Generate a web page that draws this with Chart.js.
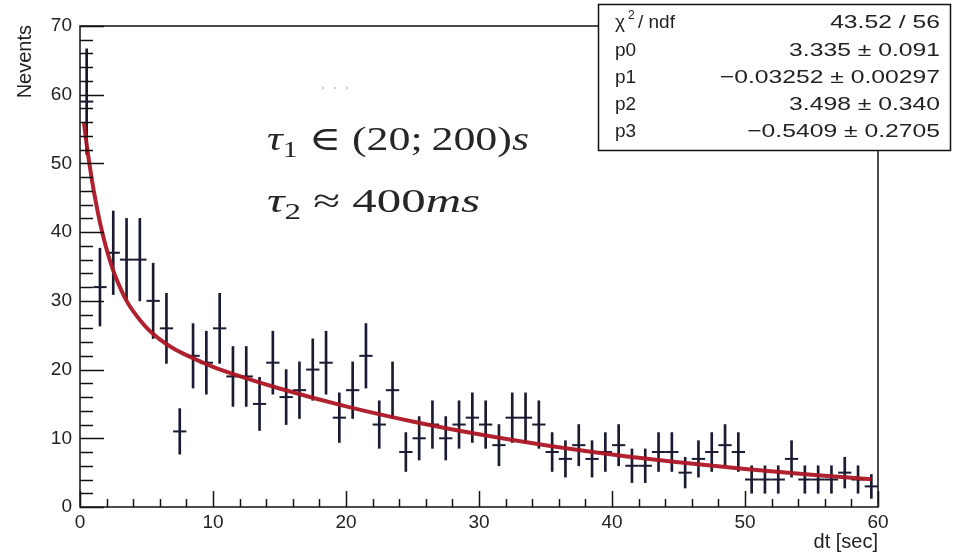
<!DOCTYPE html>
<html>
<head>
<meta charset="utf-8">
<script src="https://cdn.jsdelivr.net/npm/chart.js@4.4.1/dist/chart.umd.min.js"></script>
<style>
  html, body { margin: 0; padding: 0; background: #ffffff; }
  #wrap { width: 953px; height: 554px; position: relative; }
</style>
</head>
<body>
<div id="wrap"><canvas id="c" width="953" height="554"></canvas></div>
<script>
// ---------- data ----------
const binCenters = [0.5,1.5,2.5,3.5,4.5,5.5,6.5,7.5,8.5,9.5,
  10.5,11.5,12.5,13.5,14.5,15.5,16.5,17.5,18.5,19.5,
  20.5,21.5,22.5,23.5,24.5,25.5,26.5,27.5,28.5,29.5,
  30.5,31.5,32.5,33.5,34.5,35.5,36.5,37.5,38.5,39.5,
  40.5,41.5,42.5,43.5,44.5,45.5,46.5,47.5,48.5,49.5,
  50.5,51.5,52.5,53.5,54.5,55.5,56.5,57.5,58.5,59.5];
const counts = [59,32,37,36,36,30,26,11,22,21,
  26,19,19,15,21,16,17,20,21,13,
  17,22,12,17,8,10,12,10,12,13,
  12,9,13,13,12,8,7,9,7,8,
  9,6,6,8,8,5,7,8,9,8,
  4,4,4,7,4,4,4,5,4,3];
const countErrors = [7.68,5.66,6.08,6.00,6.00,5.48,5.10,3.32,4.69,4.58,
  5.10,4.36,4.36,3.87,4.58,4.00,4.12,4.47,4.58,3.61,
  4.12,4.69,3.46,4.12,2.83,3.16,3.46,3.16,3.46,3.61,
  3.46,3.00,3.61,3.61,3.46,2.83,2.65,3.00,2.65,2.83,
  3.00,2.45,2.45,2.83,2.83,2.24,2.65,2.83,3.00,2.83,
  2.00,2.00,2.00,2.65,2.00,2.00,2.00,2.24,2.00,1.73];
const fitX = [0.3,0.5,0.75,1,1.25,1.5,2,2.5,3,3.5,4,5,6,7,8,10,12,15,20,25,30,35,40,45,50,55,59.5];
const fitY = [55.9,52.8,49.4,46.4,43.8,41.4,37.5,34.4,32.0,30.0,28.5,26.1,24.4,23.1,22.1,20.4,19.05,17.25,14.65,12.45,10.58,8.99,7.64,6.50,5.52,4.69,4.05];
const statLabels = ['p0','p1','p2','p3'];
const statValues = ['43.52 / 56','3.335 \u00b1 0.091','\u22120.03252 \u00b1 0.00297','3.498 \u00b1 0.340','\u22120.5409 \u00b1 0.2705'];
const xTitle = 'dt [sec]';
const yTitle = 'Nevents';

// ---------- styling ----------
const INK = '#1a1a33';
const SANS = '"Liberation Sans", Arial, sans-serif';
const SERIF = '"Liberation Serif", "DejaVu Serif", serif';

function drawMath(ctx, pieces, x, baseline, targetWidth) {
  let w = 0;
  pieces.forEach(p => { ctx.font = p.font; p.w = ctx.measureText(p.t).width; w += p.w; });
  const s = targetWidth / w;
  ctx.save();
  ctx.translate(x, baseline);
  ctx.scale(s, 1);
  let cx = 0;
  pieces.forEach(p => { ctx.font = p.font; ctx.fillText(p.t, cx, p.dy || 0); cx += p.w; });
  ctx.restore();
}

const rootStyle = {
  id: 'rootStyle',
  afterDraw(chart) {
    const ctx = chart.ctx;
    const { left, right, top, bottom } = chart.chartArea;
    const xs = chart.scales.x, ys = chart.scales.y;
    ctx.save();
    ctx.strokeStyle = '#111';
    ctx.lineWidth = 1.5;
    // frame
    ctx.strokeRect(left, top, right - left, bottom - top);
    // inward ticks
    ctx.beginPath();
    for (let v = xs.min; v <= xs.max + 1e-9; v += 2) {
      const px = Math.round(xs.getPixelForValue(v)) + 0.5;
      const len = (Math.abs(v % 10) < 1e-9) ? 16 : 8;
      ctx.moveTo(px, bottom); ctx.lineTo(px, bottom - len);
    }
    for (let v = ys.min; v <= ys.max + 1e-9; v += 2) {
      const py = Math.round(ys.getPixelForValue(v)) + 0.5;
      const len = (Math.abs(v % 10) < 1e-9) ? 24 : 13;
      ctx.moveTo(left, py); ctx.lineTo(left + len, py);
    }
    ctx.stroke();

    // axis titles
    ctx.fillStyle = '#222';
    ctx.font = '20px ' + SANS;
    ctx.textAlign = 'right';
    ctx.textBaseline = 'alphabetic';
    ctx.fillText(xTitle, right, 548);
    ctx.save();
    ctx.translate(31, top - 1);
    ctx.rotate(-Math.PI / 2);
    ctx.textAlign = 'right';
    ctx.fillText(yTitle, 0, 0);
    ctx.restore();

    // latex annotation
    ctx.textAlign = 'left';
    ctx.fillStyle = '#262626';
    const big = '34px ' + SERIF, bigI = 'italic 34px ' + SERIF, sub = '23px ' + SERIF;
    drawMath(ctx, [
      { t: '\u03c4', font: bigI }, { t: '1', font: sub, dy: 7 },
      { t: ' \u2208 ', font: big }, { t: '(20;\u2009200)', font: big }, { t: 's', font: bigI }
    ], 267, 150, 262);
    drawMath(ctx, [
      { t: '\u03c4', font: bigI }, { t: '2', font: sub, dy: 7 },
      { t: ' \u2248 ', font: big }, { t: '400', font: big }, { t: 'ms', font: bigI }
    ], 267, 212, 213);
    // faint dots
    ctx.fillStyle = '#c4c4c4';
    [323, 335, 347].forEach(dx => { ctx.beginPath(); ctx.arc(dx, 88, 1.1, 0, Math.PI * 2); ctx.fill(); });

    // stats box
    const bx = 598.5, by = 4.5, bw = 352, bh = 146;
    ctx.fillStyle = '#ffffff';
    ctx.fillRect(bx, by, bw, bh);
    ctx.strokeStyle = '#111';
    ctx.lineWidth = 1.5;
    ctx.strokeRect(bx, by, bw, bh);
    const rows = [28, 56, 83, 110, 137];
    ctx.fillStyle = '#222';
    ctx.textAlign = 'left';
    ctx.font = '19px ' + SANS;
    ctx.fillText('\u03c7', 615, rows[0]);
    ctx.font = '12px ' + SANS;
    ctx.fillText('2', 628, rows[0] - 9);
    ctx.font = '19px ' + SANS;
    ctx.fillText('/ ndf', 638, rows[0]);
    statLabels.forEach((s, i) => ctx.fillText(s, 615, rows[i + 1]));
    ctx.textAlign = 'right';
    statValues.forEach((s, i) => {
      ctx.save();
      ctx.translate(940, rows[i]);
      ctx.scale(1.3, 1);
      ctx.fillText(s, 0, 0);
      ctx.restore();
    });
    ctx.restore();
  }
};

const errBars = binCenters.map((x, i) => ({ x, y: [counts[i] - countErrors[i], counts[i] + countErrors[i]] }));
const centers = binCenters.map((x, i) => ({ x, y: counts[i] }));
const fitPts = fitX.map((x, i) => ({ x, y: fitY[i] }));

new Chart(document.getElementById('c'), {
  type: 'scatter',
  data: {
    datasets: [
      {
        type: 'line', label: 'fit', data: fitPts, order: 0,
        borderColor: 'rgba(172,22,36,0.95)', borderWidth: 4,
        pointRadius: 0, cubicInterpolationMode: 'monotone', fill: false
      },
      {
        type: 'bar', label: 'err', data: errBars, order: 2,
        backgroundColor: INK, borderWidth: 0, barThickness: 2, grouped: false
      },
      {
        type: 'scatter', label: 'hist', data: centers, order: 1,
        pointStyle: 'line', pointRadius: 6.65, pointBorderWidth: 2,
        pointBorderColor: INK, pointBackgroundColor: INK, pointHoverRadius: 6.65
      }
    ]
  },
  options: {
    responsive: false,
    animation: false,
    events: [],
    layout: { padding: { left: 0, right: 75, top: 26, bottom: 0 } },
    plugins: { legend: { display: false }, tooltip: { enabled: false } },
    scales: {
      x: {
        type: 'linear', min: 0, max: 60, offset: false,
        afterFit: s => { s.height = 47; },
        grid: { display: false, drawTicks: false },
        border: { display: false },
        ticks: { stepSize: 10, padding: 4, color: '#222', maxRotation: 0,
                 font: { family: SANS, size: 19 } }
      },
      y: {
        type: 'linear', min: 0, max: 70,
        afterFit: s => { s.width = 80; },
        grid: { display: false, drawTicks: false },
        border: { display: false },
        ticks: { stepSize: 10, padding: 8, color: '#222',
                 font: { family: SANS, size: 19 } }
      }
    }
  },
  plugins: [rootStyle]
});
</script>
</body>
</html>
